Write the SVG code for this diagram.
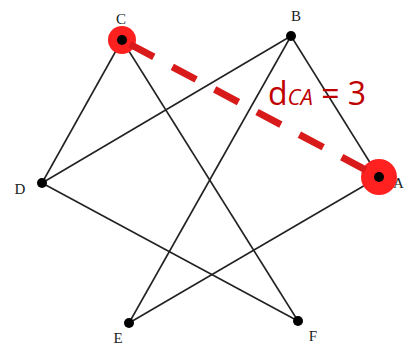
<svg xmlns="http://www.w3.org/2000/svg" width="405" height="350" viewBox="0 0 405 350">
<style>
.e{stroke:#222;stroke-width:1.6;fill:none}
.dot{fill:#000}
.lbl{font-family:"Liberation Serif",serif;font-size:15px;fill:#222}
.hl{fill:#ff2020}
.d{font-family:"Open Sans","Liberation Sans",sans-serif;fill:#c00000}
</style>
<rect width="405" height="350" fill="#fff"/>
<g id="connectors">
<line class="e" x1="122" y1="40" x2="42" y2="183"/>
<line class="e" x1="122" y1="40" x2="298" y2="321"/>
<line class="e" x1="291" y1="36" x2="42" y2="183"/>
<line class="e" x1="291" y1="36" x2="129" y2="323"/>
<line class="e" x1="291" y1="36" x2="379" y2="177"/>
<line class="e" x1="42" y1="183" x2="298" y2="321"/>
<line class="e" x1="129" y1="323" x2="379" y2="177"/>
</g>
<g id="node-C">
<circle class="hl" cx="122" cy="40" r="14"/>
<circle class="dot" cx="122" cy="40" r="5"/>
<text class="lbl" x="121" y="24" text-anchor="middle">C</text>
</g>
<g id="node-A">
<circle class="hl" cx="379" cy="177" r="18"/>
<circle class="dot" cx="379" cy="177" r="5"/>
<text class="lbl" x="393" y="188">A</text>
</g>
<g id="dist">
<line x1="122" y1="40" x2="379" y2="177" stroke="#d91a1a" stroke-width="7" stroke-dasharray="27 21" stroke-dashoffset="-9"/>
<text class="d" x="268" y="105" font-size="32">d<tspan font-size="22" font-style="italic">CA</tspan> = 3</text>
</g>
<g id="node-B">
<circle class="dot" cx="291" cy="36" r="5"/>
<text class="lbl" x="296" y="21" text-anchor="middle">B</text>
</g>
<g id="node-D">
<circle class="dot" cx="42" cy="183" r="5"/>
<text class="lbl" x="20" y="194" text-anchor="middle">D</text>
</g>
<g id="node-E">
<circle class="dot" cx="129" cy="323" r="5"/>
<text class="lbl" x="118" y="343" text-anchor="middle">E</text>
</g>
<g id="node-F">
<circle class="dot" cx="298" cy="321" r="5"/>
<text class="lbl" x="313" y="341" text-anchor="middle">F</text>
</g>
</svg>
